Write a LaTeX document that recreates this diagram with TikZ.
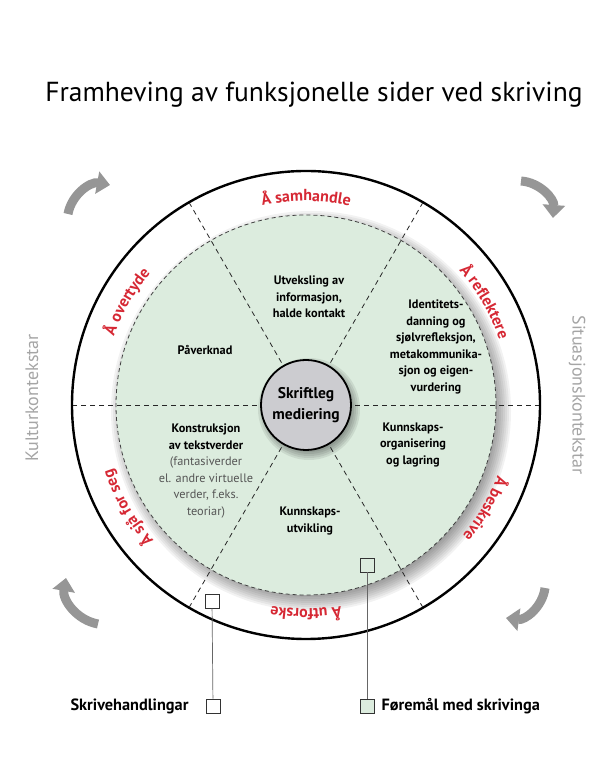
\documentclass[tikz,border=0pt]{standalone}
\usepackage{fontspec}
\setmainfont{PT Sans}
\usetikzlibrary{decorations.text,arrows.meta,calc}
\definecolor{ringred}{RGB}{214,40,52}
\definecolor{mint}{RGB}{220,236,222}
\definecolor{hubgray}{RGB}{204,204,208}
\definecolor{ctxgray}{RGB}{165,165,165}
\definecolor{arrowgray}{RGB}{150,150,150}
\definecolor{softtext}{RGB}{85,85,85}
\newcommand{\ringfmt}{\color{ringred}\bfseries\fontsize{16}{16}\selectfont}
\begin{document}
\begin{tikzpicture}[x=1pt,y=1pt,
  ringlabel/.style={decorate,decoration={text along path,text align=center,text={|\ringfmt|#1}}},
  spoke/.style={dashed,dash pattern=on 5pt off 4pt,line width=0.8pt,black!85},
  sector/.style={align=center,font=\bfseries\fontsize{12.3}{16.5}\selectfont},
  sq/.style={draw=black!80,fill=white,minimum size=14pt,inner sep=0pt,line width=0.9pt},
  lead/.style={draw=black!60,line width=0.7pt},
  garrow/.style={line width=9pt,arrowgray,-{Triangle[length=13pt,width=22pt]}},
  ctx/.style={text=ctxgray,font=\fontsize{18}{18}\selectfont},
  legend/.style={font=\bfseries\fontsize{16.3}{18}\selectfont}]
\useasboundingbox (0,0) rectangle (610,781);
\fill[white] (0,0) rectangle (610,781);
\coordinate (C) at (306,376);

\node[font=\fontsize{27.5}{32}\selectfont] (title) at (314,686) {Framheving av funksjonelle sider ved skriving};

% outer circle
\draw[line width=2.4pt] (C) circle[radius=234pt];

% shadow of inner circle
\foreach \rr in {200,198,...,182}
  \fill[black,opacity=0.05] ($(C)+(5,-6)$) circle[radius=\rr pt];
\fill[mint] (C) circle[radius=190pt];
\draw[dashed,dash pattern=on 4pt off 3pt,line width=0.8pt,black!75] (C) circle[radius=190pt];

% spokes
\foreach \a in {0,60,...,300}
  \draw[spoke] ([shift={(C)}]\a:40pt) -- ([shift={(C)}]\a:233pt);

% hub shadow and hub
\foreach \rr in {51,49,...,43}
  \fill[black,opacity=0.08] ($(C)+(3,-4)$) circle[radius=\rr pt];
\node[circle,draw,line width=1.8pt,fill=hubgray,minimum size=90pt,inner sep=0pt,align=center,
  font=\bfseries\fontsize{15.5}{21}\selectfont] (hub) at (C) {Skriftleg\\mediering};

% ring labels
\path[ringlabel={Å samhandle}] ([shift={(C)}]125:204pt) arc[start angle=125,end angle=55,radius=204pt];
\path[ringlabel={Å reflektere}] ([shift={(C)}]65:204pt) arc[start angle=65,end angle=-5,radius=204pt];
\path[ringlabel={Å beskrive}] ([shift={(C)}]5:204pt) arc[start angle=5,end angle=-65,radius=204pt];
\path[ringlabel={Å utforske}] ([shift={(C)}]-55:204pt) arc[start angle=-55,end angle=-125,radius=204pt];
\path[ringlabel={Å sjå for seg}] ([shift={(C)}]245:204pt) arc[start angle=245,end angle=175,radius=204pt];
\path[ringlabel={Å overtyde}] ([shift={(C)}]185:204pt) arc[start angle=185,end angle=115,radius=204pt];

% sector texts
\node[sector] (s1) at (309,484) {Utveksling av\\informasjon,\\halde kontakt};
\node[sector] (s2) at (436,434) {Identitets-\\danning og\\sjølvrefleksjon,\\metakommunika-\\sjon og eigen-\\vurdering};
\node[sector] (s3) at (413,336) {Kunnskaps-\\organisering\\og lagring};
\node[sector] (s4) at (310,260) {Kunnskaps-\\utvikling};
\node[sector] (s5) at (206,310) {Konstruksjon\\av tekstverder\\{\mdseries\color{softtext}(fantasiverder}\\{\mdseries\color{softtext}el. andre virtuelle}\\{\mdseries\color{softtext}verder, f.eks.}\\{\mdseries\color{softtext}teoriar)}};
\node[sector] (s6) at (205,431) {Påverknad};

% context labels
\node[ctx,rotate=90] (kultur) at (32,383) {Kulturkontekstar};
\node[ctx,rotate=-90] (situ) at (577,386) {Situasjonskontekstar};

% gray rotation arrows
\draw[garrow] (68,567) to[bend left=45] (110,596);
\draw[garrow] (521,600) to[bend left=45] (553,563);
\draw[garrow] (545,193) to[bend left=45] (506,163);
\draw[garrow] (98,157) to[bend left=45] (66,203);

% markers and legend
\node[sq] (m1) at (212,180) {};
\node[sq,fill=mint] (m2) at (367,216) {};
\node[sq] (k1) at (213,75) {};
\node[sq,fill=mint] (k2) at (367,75) {};
\draw[lead] (m1) -- (k1);
\draw[lead] (m2) -- (k2);
\node[legend,anchor=east] (t1) at (192,75) {Skrivehandlingar};
\node[legend,anchor=west] (t2) at (378,75) {Føremål med skrivinga};
\end{tikzpicture}
\end{document}
